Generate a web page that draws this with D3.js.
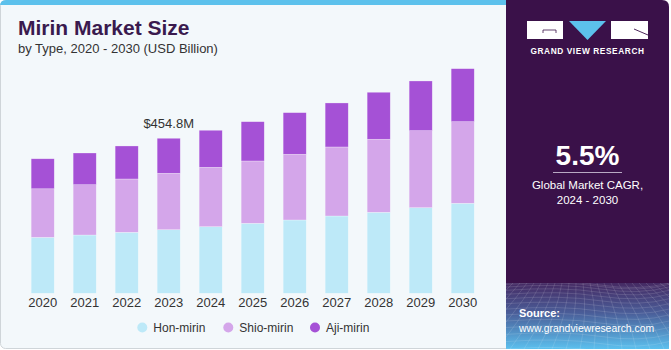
<!DOCTYPE html>
<html>
<head>
<meta charset="utf-8">
<script src="https://cdn.jsdelivr.net/npm/d3@7"></script>
<style>
	html, body { margin: 0; padding: 0; background: #ffffff; }
	svg { display: block; font-family: "Liberation Sans", Arial, sans-serif; }
</style>
</head>
<body>
<div class="chart"></div>
<script>
const years = ["2020", "2021", "2022", "2023", "2024", "2025", "2026", "2027", "2028", "2029", "2030"];
const honMirin = [164.1, 171.0, 179.0, 186.6, 195.4, 205.4, 215.1, 226.8, 237.7, 251.2, 264.1];
const shioMirin = [142.6, 147.6, 156.4, 165.5, 174.3, 182.8, 192.8, 202.5, 214.2, 225.9, 239.4];
const ajiMirin = [88.0, 93.0, 96.8, 102.7, 108.6, 115.3, 122.1, 129.1, 137.9, 145.8, 155.5];
const seriesNames = ["Hon-mirin", "Shio-mirin", "Aji-mirin"];
const seriesColors = ["#bde9f8", "#d4a6ea", "#a551d6"];
const labelYear = "2023";
const labelText = "$454.8M";

const W = 671, H = 350;

const svg = d3
	.select(".chart")
	.append("svg")
	.attr("width", W)
	.attr("height", H);

const defs = svg.append("defs");
const grad = defs.append("linearGradient").attr("id", "srcGrad").attr("x1", 0).attr("y1", 0).attr("x2", 0).attr("y2", 1);
grad.append("stop").attr("offset", "0%").attr("stop-color", "#452a63");
grad.append("stop").attr("offset", "45%").attr("stop-color", "#4a5d98");
grad.append("stop").attr("offset", "100%").attr("stop-color", "#5cc0ee");
defs.append("clipPath").attr("id", "srcClip")
	.append("rect").attr("x", 506).attr("y", 283).attr("width", 163).attr("height", 66);

// left panel
svg.append("rect")
	.attr("x", 0.5).attr("y", 0.5).attr("width", 520).attr("height", 348)
	.attr("rx", 5)
	.attr("fill", "#f3f8fb")
	.attr("stroke", "#cfd5d9");
svg.append("path")
	.attr("d", "M0,6 Q0,0 6,0 L506,0 L506,5 L0,5 Z")
	.attr("fill", "#5cc1ec");

// right panel
svg.append("path")
	.attr("d", "M506,0 L662,0 Q669,0 669,7 L669,349 L506,349 Z")
	.attr("fill", "#3a1149");
svg.append("rect")
	.attr("x", 506).attr("y", 283).attr("width", 163).attr("height", 66)
	.attr("fill", "url(#srcGrad)");

// grid texture of the source box
const mesh = svg.append("g").attr("clip-path", "url(#srcClip)")
	.attr("stroke", "#ffffff").attr("stroke-opacity", 0.18).attr("fill", "none").attr("stroke-width", 0.7);
d3.range(0, 14).forEach((i) => {
	const y = 283 + Math.pow(i / 13, 1.5) * 66;
	mesh.append("path").attr("d", `M506,${y} Q560,${y - 4} 600,${y + 2} T669,${y}`);
});
d3.range(-12, 26).forEach((i) => {
	const xt = 506 + i * 7;
	const xb = 506 + i * 14 - 80;
	mesh.append("path").attr("d", `M${xt},283 Q${(xt + xb) / 2 + 6},316 ${xb},349`);
});

// logo
const logo = svg.append("g");
logo.append("rect").attr("x", 527).attr("y", 21).attr("width", 36).attr("height", 18).attr("fill", "#ffffff");
logo.append("path").attr("d", "M543,33 L543,30 L556,30 L556,33").attr("fill", "none").attr("stroke", "#3a1149").attr("stroke-width", 0.8);
logo.append("path").attr("d", "M569,21 L606,21 L587.5,40 Z").attr("fill", "#5cc1ec");
logo.append("rect").attr("x", 611).attr("y", 21).attr("width", 37).attr("height", 18).attr("fill", "#ffffff");
logo.append("path").attr("d", "M634,29 L648,35").attr("stroke", "#3a1149").attr("stroke-width", 0.9);
logo.append("text")
	.attr("x", 587.5).attr("y", 54)
	.attr("text-anchor", "middle")
	.attr("fill", "#ffffff")
	.style("font", "bold 8.3px 'Liberation Sans', Arial, sans-serif")
	.style("letter-spacing", "0.6px")
	.text("GRAND VIEW RESEARCH");

// CAGR
svg.append("text")
	.attr("x", 587.5).attr("y", 165)
	.attr("text-anchor", "middle")
	.attr("fill", "#ffffff")
	.style("font", "bold 28px 'Liberation Sans', Arial, sans-serif")
	.text("5.5%");
svg.append("line")
	.attr("x1", 553).attr("x2", 622).attr("y1", 172.5).attr("y2", 172.5)
	.attr("stroke", "#b9a9c4").attr("stroke-width", 1);
svg.append("text")
	.attr("x", 587.5).attr("y", 189)
	.attr("text-anchor", "middle")
	.attr("fill", "#ffffff")
	.style("font", "11.5px 'Liberation Sans', Arial, sans-serif")
	.text("Global Market CAGR,");
svg.append("text")
	.attr("x", 587.5).attr("y", 204)
	.attr("text-anchor", "middle")
	.attr("fill", "#ffffff")
	.style("font", "11.5px 'Liberation Sans', Arial, sans-serif")
	.text("2024 - 2030");

// source
svg.append("text")
	.attr("x", 519).attr("y", 317)
	.attr("fill", "#ffffff")
	.style("font", "bold 11px 'Liberation Sans', Arial, sans-serif")
	.text("Source:");
svg.append("text")
	.attr("x", 519).attr("y", 332)
	.attr("fill", "#ffffff")
	.style("font", "10.4px 'Liberation Sans', Arial, sans-serif")
	.text("www.grandviewresearch.com");

// titles
svg.append("text")
	.attr("x", 18).attr("y", 35)
	.attr("fill", "#3a1a4e")
	.style("font", "bold 21px 'Liberation Sans', Arial, sans-serif")
	.text("Mirin Market Size");
svg.append("text")
	.attr("x", 18).attr("y", 53)
	.attr("fill", "#333333")
	.style("font", "13px 'Liberation Sans', Arial, sans-serif")
	.text("by Type, 2020 - 2030 (USD Billion)");

// bars
const x = d3.scaleBand()
	.domain(years)
	.range([21.7, 483.7])
	.paddingInner(0.45)
	.paddingOuter(0.225);

const y = d3.scaleLinear()
	.domain([0, 700])
	.range([293.3, 54.7]);

const table = years.map((yr, i) => ({
	year: yr,
	"Hon-mirin": honMirin[i],
	"Shio-mirin": shioMirin[i],
	"Aji-mirin": ajiMirin[i]
}));
const stacked = d3.stack().keys(seriesNames)(table);

svg.append("g")
	.selectAll("g")
	.data(stacked)
	.enter()
	.append("g")
	.attr("fill", (d, i) => seriesColors[i])
	.selectAll("rect")
	.data((d) => d)
	.enter()
	.append("rect")
	.attr("x", (d) => x(d.data.year))
	.attr("y", (d) => y(d[1]))
	.attr("width", x.bandwidth())
	.attr("height", (d) => y(d[0]) - y(d[1]))
	.attr("stroke", "#ffffff")
	.attr("stroke-opacity", 0.45)
	.attr("stroke-width", 0.6);

// x axis
svg.append("g")
	.attr("transform", `translate(0,${y(0)})`)
	.call(d3.axisBottom(x).tickSize(0).tickPadding(4))
	.call((g) => g.select(".domain").remove())
	.call((g) =>
		g.selectAll("text")
			.attr("fill", "#333333")
			.style("font", "13px 'Liberation Sans', Arial, sans-serif")
	);

// value label
const li = years.indexOf(labelYear);
svg.append("text")
	.attr("x", x(labelYear) + x.bandwidth() / 2)
	.attr("y", y(honMirin[li] + shioMirin[li] + ajiMirin[li]) - 10)
	.attr("text-anchor", "middle")
	.attr("fill", "#333333")
	.style("font", "13px 'Liberation Sans', Arial, sans-serif")
	.text(labelText);

// legend
const legendX = [142.3, 228.3, 315];
const legend = svg.append("g")
	.selectAll("g")
	.data(seriesNames)
	.enter()
	.append("g")
	.attr("transform", (d, i) => `translate(${legendX[i]},327.5)`);
legend.append("circle").attr("r", 5).attr("fill", (d, i) => seriesColors[i]);
legend.append("text")
	.attr("x", 11).attr("y", 4.3)
	.attr("fill", "#333333")
	.style("font", "12px 'Liberation Sans', Arial, sans-serif")
	.text((d) => d);
</script>
</body>
</html>
